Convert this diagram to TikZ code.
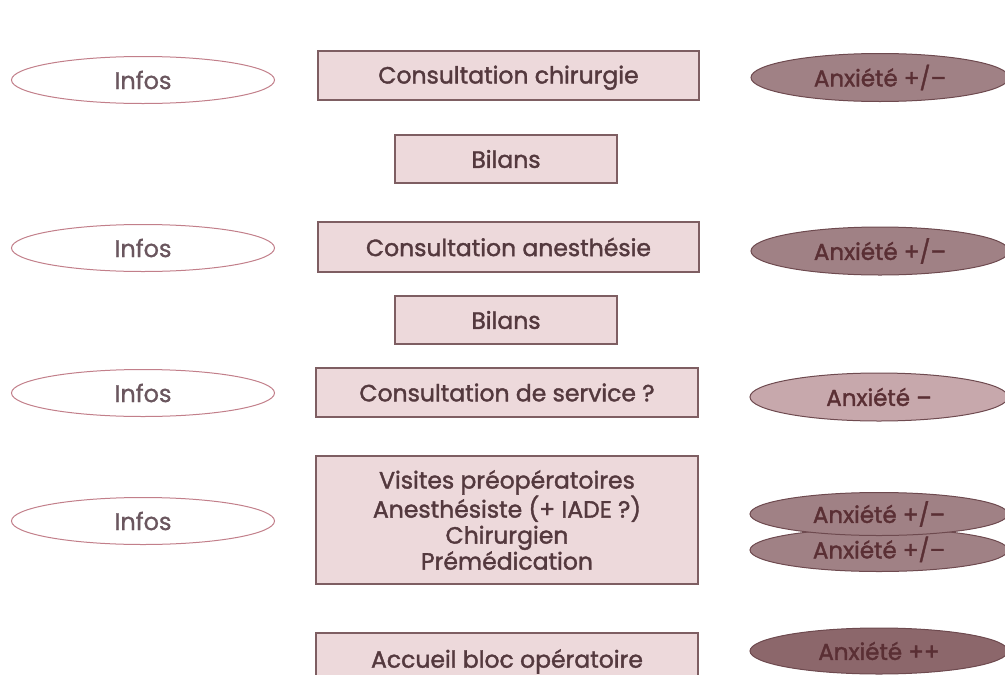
\documentclass[tikz,border=0pt]{standalone}
\usepackage{fontspec}
\setmainfont{Poppins}[FakeBold=1.6]
\newfontfamily\infofont{Poppins}[FakeBold=0.8]
\usetikzlibrary{shapes.geometric}
\definecolor{boxfill}{HTML}{EDD9DB}
\definecolor{boxline}{HTML}{7E5E62}
\definecolor{boxtext}{HTML}{54393E}
\definecolor{infoline}{HTML}{C27F8A}
\definecolor{infotext}{HTML}{6A565E}
\definecolor{anxA}{HTML}{A08185}
\definecolor{anxB}{HTML}{C7A8AC}
\definecolor{anxC}{HTML}{8C676B}
\definecolor{anxline}{HTML}{6E4A4F}
\definecolor{anxtext}{HTML}{5A2F34}
\tikzset{
  stepbox/.style={draw=boxline, line width=1.2pt, fill=boxfill, text=boxtext, font=\fontsize{23.5}{26}\selectfont, align=center, inner sep=0pt, outer sep=0pt},
  info/.style={ellipse, draw=infoline, line width=1pt, fill=white, text=infotext, minimum width=263pt, minimum height=47pt, inner sep=0pt, font=\infofont\fontsize{24}{26}\selectfont},
  anx/.style={ellipse, draw=anxline, line width=1pt, text=anxtext, minimum width=258pt, minimum height=48pt, inner sep=0pt, font=\fontsize{23}{26}\selectfont},
}
\begin{document}
\begin{tikzpicture}[x=1pt,y=-1pt]
\useasboundingbox (0,0) rectangle (1005,675);
\clip (0,0) rectangle (1005,675);
% left ellipses
\node[info] (i1) at (143,80) {Infos};
\node[info] (i2) at (143,248) {Infos};
\node[info] (i3) at (143,393) {Infos};
\node[info] (i4) at (143,521) {Infos};
% center boxes
\node[stepbox, minimum width=381pt, minimum height=49pt, text height=19pt, text depth=3pt] (c1) at (508.5,75.5) {Consultation chirurgie};
\node[stepbox, minimum width=222pt, minimum height=48pt] (b1) at (506,159) {Bilans};
\node[stepbox, minimum width=381pt, minimum height=50pt] (c2) at (508.5,247) {Consultation anesthésie};
\node[stepbox, minimum width=222pt, minimum height=48pt] (b2) at (506,320) {Bilans};
\node[stepbox, minimum width=382pt, minimum height=49pt] (c3) at (507,392.5) {Consultation de service ?};
\node[stepbox, minimum width=382pt, minimum height=128pt] (v) at (507,520) {Visites préopératoires\\Anesthésiste (+ IADE ?)\\Chirurgien\\Prémédication};
\node[stepbox, minimum width=382pt, minimum height=60pt, anchor=north] (acc) at (507,633) {\raisebox{9pt}{Accueil bloc opératoire}};
% right ellipses
\node[anx, fill=anxA] (a1) at (880,77.5) {Anxiété +/–};
\node[anx, fill=anxA] (a2) at (880,251) {Anxiété +/–};
\node[anx, fill=anxB] (a3) at (879,397) {Anxiété –};
\node[anx, fill=anxA, minimum height=43pt] (a5) at (879,550) {\raisebox{5pt}{Anxiété +/–}};
\node[anx, fill=anxA, minimum height=43pt] (a4) at (879,514) {Anxiété +/–};
\node[anx, fill=anxC, minimum height=46pt] (a6) at (879,651) {\raisebox{-4pt}{Anxiété ++}};
\end{tikzpicture}
\end{document}
